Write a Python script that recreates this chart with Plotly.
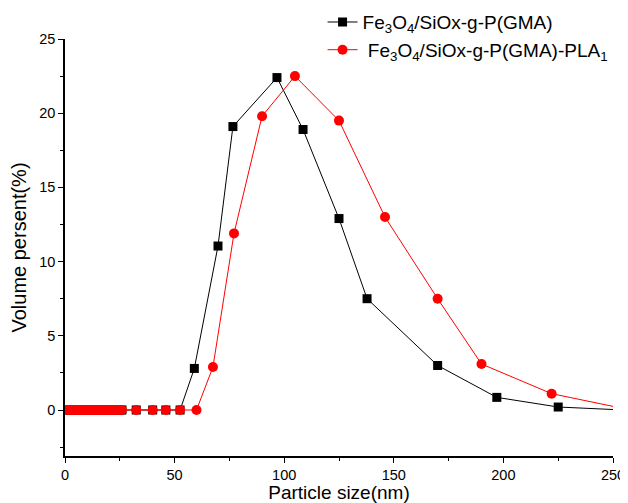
import plotly.graph_objects as go

low_x = [0, 1, 2, 3, 4, 5, 6, 7, 8, 9, 10, 11, 12, 13, 14, 15, 16, 17, 18, 19, 20, 21, 22, 23, 24, 25, 26, 32.5, 40, 46, 52.5]
black_x = low_x + [59, 69.8, 76.6, 96.7, 108.6, 125, 137.8, 170, 197, 225, 255]
black_y = [0] * len(low_x) + [2.8, 11.05, 19.1, 22.4, 18.9, 12.9, 7.5, 3.0, 0.85, 0.2, 0.0]
red_x = low_x + [60, 67.5, 77.1, 89.9, 104.9, 125, 146, 170, 190, 222, 258]
red_y = [0] * len(low_x) + [0, 2.9, 11.9, 19.8, 22.5, 19.5, 13.0, 7.5, 3.1, 1.1, 0.0]

fig = go.Figure()
fig.add_trace(go.Scatter(
    x=black_x, y=black_y, mode="lines+markers",
    name="Fe<sub>3</sub>O<sub>4</sub>/SiOx-g-P(GMA)",
    legendgroup="a",
    line=dict(color="black", width=1),
    marker=dict(symbol="square", size=9, color="black"),
    cliponaxis=True,
))
fig.add_trace(go.Scatter(
    x=red_x, y=red_y, mode="lines+markers",
    name=" Fe<sub>3</sub>O<sub>4</sub>/SiOx-g-P(GMA)-PLA<sub>1</sub>",
    legendgroup="b",
    line=dict(color="red", width=1),
    marker=dict(symbol="circle", size=10, color="red"),
    cliponaxis=True,
))

fig.update_layout(
    width=620, height=495,
    margin=dict(l=57, r=15, t=31, b=47, autoexpand=False),
    plot_bgcolor="white", paper_bgcolor="white",
    font=dict(family="Liberation Sans, Arial", color="black"),
    showlegend=True,
    legend=dict(x=0.47, y=1.086, xanchor="left", yanchor="top",
                font=dict(size=19), bgcolor="rgba(0,0,0,0)",
                traceorder="grouped", tracegroupgap=0, itemwidth=30),
    xaxis=dict(
        range=[0, 250], showgrid=False, zeroline=False, automargin=False,
        showline=True, linecolor="black", linewidth=1.5,
        ticks="outside", ticklen=5, tickwidth=1.2, tickcolor="black",
        dtick=50, tick0=0,
        minor=dict(ticks="outside", ticklen=3, dtick=25, tickcolor="black", tickwidth=1.2),
        tickfont=dict(size=14.5),
        title=dict(text="Particle size(nm)", font=dict(size=19), standoff=9),
    ),
    yaxis=dict(
        range=[-3.1, 25], showgrid=False, zeroline=False, automargin=False,
        showline=True, linecolor="black", linewidth=1.5,
        ticks="outside", ticklen=5, tickwidth=1.2, tickcolor="black",
        dtick=5, tick0=0,
        minor=dict(ticks="outside", ticklen=3, dtick=2.5, tickcolor="black", tickwidth=1.2),
        tickfont=dict(size=14.5),
        title=dict(text="Volume persent(%)", font=dict(size=20), standoff=8),
    ),
)

fig.write_html("out.html")
